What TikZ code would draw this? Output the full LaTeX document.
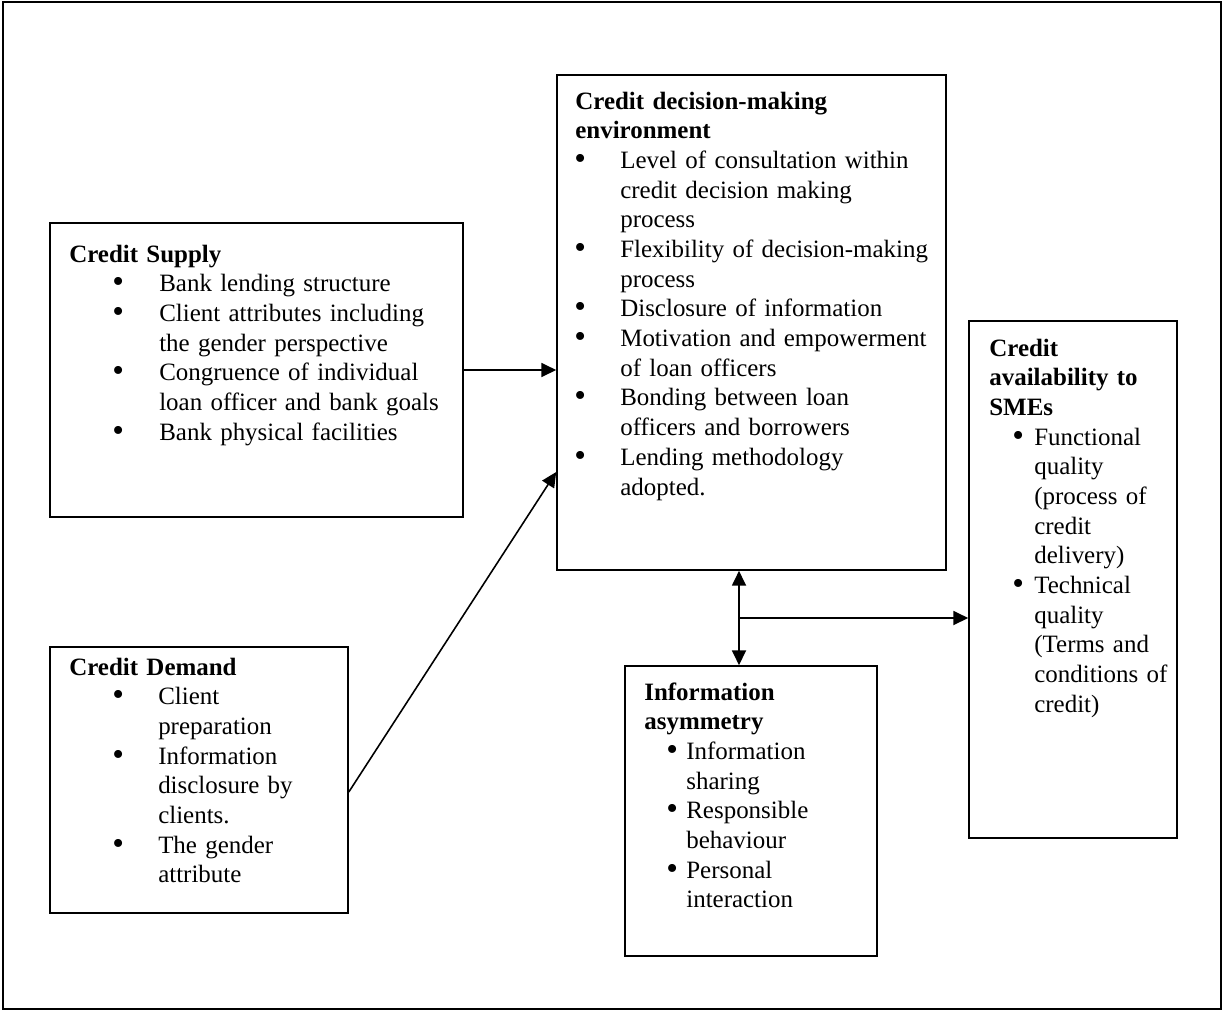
\documentclass[tikz,border=0pt]{standalone}
\usepackage{fontspec}
\setmainfont{Liberation Serif}
\usepackage{enumitem}
\usetikzlibrary{arrows.meta,fit,calc}
\setlist[itemize]{nosep,label={\raisebox{-0.04em}{\fontsize{19pt}{19pt}\selectfont\textbullet}}}
\newcommand{\boxfont}{\fontsize{14.2pt}{16.9pt}\selectfont}

\begin{document}
\begin{tikzpicture}[x=0.02cm,y=-0.02cm,
	box/.style={draw,line width=0.9pt,inner sep=0pt},
	txt/.style={anchor=base west,inner sep=0pt,align=left,font=\boxfont},
	arr/.style={line width=0.9pt,-{Triangle[length=8.5pt,width=8pt]}},
	arrboth/.style={line width=0.9pt,{Triangle[length=8.5pt,width=8pt]}-{Triangle[length=8.5pt,width=8pt]}}]
			\useasboundingbox (0,0) rectangle (1223,1011);
			\node[box,fit={(3,2) (1221,1009)}] (frame) {};
			%--
			\node[box,fit={(50,223) (463,517)}] (supply) {};
			\node[box,fit={(557,75) (946,570)}] (decision) {};
			\node[box,fit={(50,647) (348,913)}] (demand) {};
			\node[box,fit={(625,666) (877,956)}] (info) {};
			\node[box,fit={(969,321) (1177,838)}] (avail) {};
			%--
			\node[txt,text width=240pt] (supplytxt) at (69,262) {\textbf{Credit Supply}
				\begin{itemize}[leftmargin=51.2pt,labelsep=20pt]
				\item Bank lending structure
				\item Client attributes including\newline the gender perspective
				\item Congruence of individual\newline loan officer and bank goals
				\item Bank physical facilities
				\end{itemize}};
			\node[txt,text width=225pt] (decisiontxt) at (575,109) {\textbf{Credit decision-making}\newline\textbf{environment}
				\begin{itemize}[leftmargin=25.6pt,labelsep=19.5pt]
				\item Level of consultation within\newline credit decision making\newline process
				\item Flexibility of decision-making\newline process
				\item Disclosure of information
				\item Motivation and empowerment\newline of loan officers
				\item Bonding between loan\newline officers and borrowers
				\item Lending methodology\newline adopted.
				\end{itemize}};
			\node[txt,text width=170pt] (demandtxt) at (69,675) {\textbf{Credit Demand}
				\begin{itemize}[leftmargin=50.6pt,labelsep=19.5pt]
				\item Client\newline preparation
				\item Information\newline disclosure by\newline clients.
				\item The gender\newline attribute
				\end{itemize}};
			\node[txt,text width=140pt] (infotxt) at (644,700) {\textbf{Information}\newline\textbf{asymmetry}
				\begin{itemize}[leftmargin=23.9pt,labelsep=4.7pt]
				\item Information\newline sharing
				\item Responsible\newline behaviour
				\item Personal\newline interaction
				\end{itemize}};
			\node[txt,text width=120pt] (availtxt) at (989,356) {\textbf{Credit}\newline\textbf{availability to}\newline\textbf{SMEs}
				\begin{itemize}[leftmargin=25.6pt,labelsep=5.8pt]
				\item Functional\newline quality\newline (process of\newline credit\newline delivery)
				\item Technical\newline quality\newline (Terms and\newline conditions of\newline credit)
				\end{itemize}};
			%--
			\coordinate (split) at (739,618);
			\draw[arr] (supply.east) -- (supply.east -| decision.west);
			\draw[arr] ($(demand.east)+(0,12)$) -- ($(decision.west)+(0,149.5)$);
			\draw[arrboth] (decision.south -| split) -- (info.north -| split);
			\draw[arr] (split) -- (split -| avail.west);
		\end{tikzpicture}
\end{document}
